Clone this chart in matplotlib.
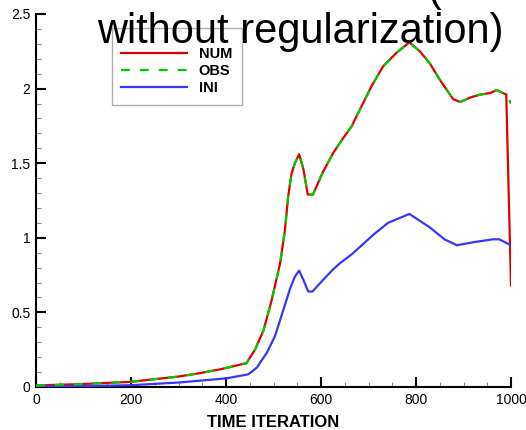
import matplotlib
matplotlib.use("Agg")
import matplotlib.pyplot as plt
from matplotlib.ticker import MultipleLocator, FormatStrFormatter

plt.rcParams["font.family"] = ["Liberation Sans", "DejaVu Sans"]

# data
num_x = [0, 100, 200, 300, 340, 390, 443, 461, 479, 496, 514, 524, 531, 538,
         545, 554, 563, 572, 583, 604, 626, 645, 665, 682, 707, 731, 759, 786,
         808, 829, 850, 878, 893, 914, 935, 956, 970, 990, 1000]
num_y = [0.01, 0.02, 0.035, 0.07, 0.09, 0.12, 0.16, 0.25, 0.38, 0.58, 0.83,
         1.05, 1.28, 1.43, 1.50, 1.56, 1.46, 1.29, 1.29, 1.44, 1.57, 1.66,
         1.75, 1.86, 2.02, 2.15, 2.24, 2.31, 2.25, 2.17, 2.06, 1.93, 1.91,
         1.94, 1.96, 1.97, 1.99, 1.96, 0.68]

obs_x = num_x
obs_y = num_y[:-1] + [1.90]

ini_x = [0, 100, 200, 300, 401, 447, 465, 486, 503, 521, 535, 545, 554, 564,
         573, 582, 605, 626, 640, 665, 710, 741, 786, 829, 860, 886, 920, 962,
         975, 1000]
ini_y = [0.003, 0.006, 0.012, 0.03, 0.058, 0.085, 0.13, 0.23, 0.34, 0.52,
         0.66, 0.74, 0.78, 0.71, 0.64, 0.64, 0.72, 0.79, 0.83, 0.89, 1.02,
         1.10, 1.16, 1.07, 0.99, 0.95, 0.97, 0.99, 0.99, 0.95]

W, H = 526, 430
fig = plt.figure(figsize=(W / 100, H / 100), dpi=100)
ax = fig.add_axes([36 / W, 1 - 387 / H, 475 / W, 373 / H])

ax.plot(num_x, num_y, color="#e00000", lw=1.6, label="NUM", zorder=3)
ax.plot(obs_x, obs_y, color="#00cc00", lw=1.6, ls=(0, (4, 4.5)), label="OBS", zorder=4)
ax.plot(ini_x, ini_y, color="#3636ff", lw=1.6, label="INI", zorder=3)

ax.set_xlim(0, 1000)
ax.set_ylim(0, 2.5)
ax.xaxis.set_major_locator(MultipleLocator(200))
ax.xaxis.set_minor_locator(MultipleLocator(50))
ax.yaxis.set_major_locator(MultipleLocator(0.5))
ax.yaxis.set_minor_locator(MultipleLocator(0.1))
ax.yaxis.set_major_formatter(FormatStrFormatter("%g"))

for s in ["top", "right"]:
    ax.spines[s].set_visible(False)
for s in ["left", "bottom"]:
    ax.spines[s].set_linewidth(1.5)

ax.tick_params(which="major", direction="in", length=7, width=1.5, labelsize=10, pad=4)
ax.tick_params(which="minor", direction="in", length=3.5, width=0.8, color="#888888")

ax.set_xlabel("TIME ITERATION", fontsize=12, fontweight="bold", labelpad=6)

# blank small title only pushes the entries down inside the frame
leg = ax.legend(loc="upper left", bbox_to_anchor=(112 / W, 1 - 28 / H),
                bbox_transform=fig.transFigure, borderaxespad=0, fancybox=False,
                handlelength=4.5, handletextpad=0.8, labelspacing=0.2,
                borderpad=0.65, prop={"weight": "bold", "size": 10.5},
                title=" ", title_fontsize=5)
leg.get_frame().set_edgecolor("#999999")
leg.get_frame().set_linewidth(1.0)

# title, first line mostly outside the picture
fig.text(300 / W, 1 - 43 / H, "without regularization)", fontsize=30,
         ha="center", va="baseline", zorder=10)
fig.text(427 / W, 1 - 1 / H, "(", fontsize=30, ha="left", va="baseline", zorder=10)

fig.savefig("out.png", dpi=100)
